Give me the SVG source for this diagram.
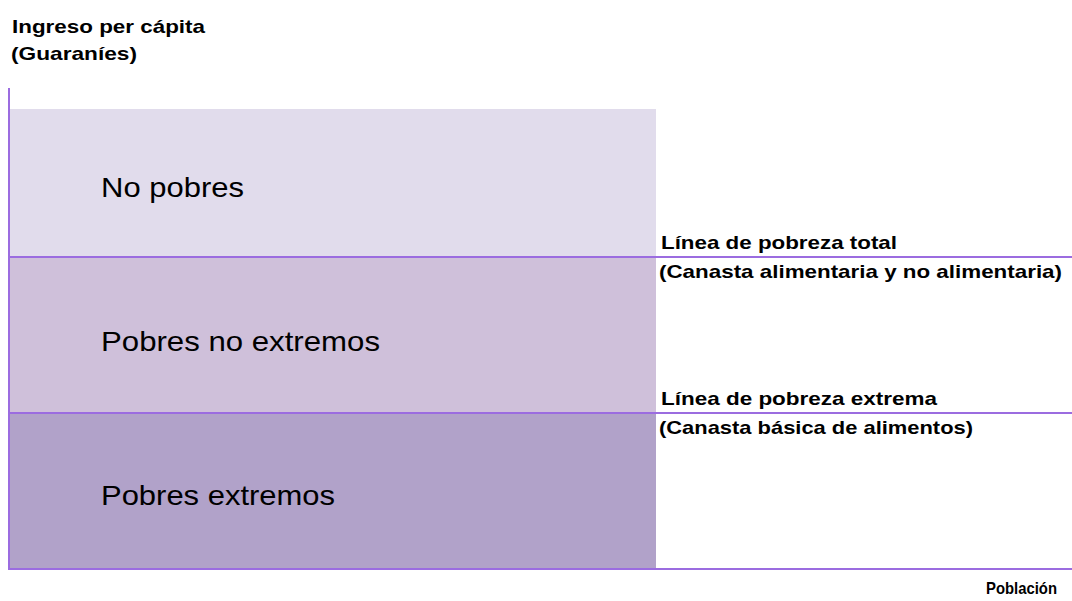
<svg xmlns="http://www.w3.org/2000/svg" width="1072" height="601" viewBox="0 0 1072 601">
<style>
.lbl{font-family:"Liberation Sans",Arial,sans-serif;font-weight:bold;font-size:19px;fill:#000}
.big{font-family:"Liberation Sans",Arial,sans-serif;font-size:28px;fill:#000}
.ln{stroke:#9b6ce0;stroke-width:2;fill:none}
</style>
<rect width="1072" height="601" fill="#fff"/>
<g id="no-pobres">
<rect x="9" y="109" width="647" height="148" fill="#e1dcec"/>
<text class="big" x="101" y="197" textLength="143" lengthAdjust="spacingAndGlyphs">No pobres</text>
</g>
<g id="pobres-no-extremos">
<rect x="9" y="257" width="647" height="156" fill="#cfc0da"/>
<text class="big" x="101" y="351" textLength="279" lengthAdjust="spacingAndGlyphs">Pobres no extremos</text>
</g>
<g id="pobres-extremos">
<rect x="9" y="413" width="647" height="156" fill="#b1a2c9"/>
<text class="big" x="101" y="505" textLength="234" lengthAdjust="spacingAndGlyphs">Pobres extremos</text>
</g>
<g id="connectors">
<line class="ln" x1="9" y1="88" x2="9" y2="570"/>
<line class="ln" x1="9" y1="257" x2="1072" y2="257"/>
<line class="ln" x1="9" y1="413" x2="1072" y2="413"/>
<line class="ln" x1="9" y1="569" x2="1072" y2="569"/>
</g>
<g id="labels">
<text class="lbl" x="12" y="33" textLength="193" lengthAdjust="spacingAndGlyphs">Ingreso per cápita</text>
<text class="lbl" x="11" y="60" textLength="126" lengthAdjust="spacingAndGlyphs">(Guaraníes)</text>
<text class="lbl" x="661" y="249" textLength="236" lengthAdjust="spacingAndGlyphs">Línea de pobreza total</text>
<text class="lbl" x="659" y="278" textLength="403" lengthAdjust="spacingAndGlyphs">(Canasta alimentaria y no alimentaria)</text>
<text class="lbl" x="661" y="405" textLength="276" lengthAdjust="spacingAndGlyphs">Línea de pobreza extrema</text>
<text class="lbl" x="659" y="434" textLength="314" lengthAdjust="spacingAndGlyphs">(Canasta básica de alimentos)</text>
<text class="lbl" x="986" y="594" style="font-size:17px" textLength="71" lengthAdjust="spacingAndGlyphs">Población</text>
</g>
</svg>
